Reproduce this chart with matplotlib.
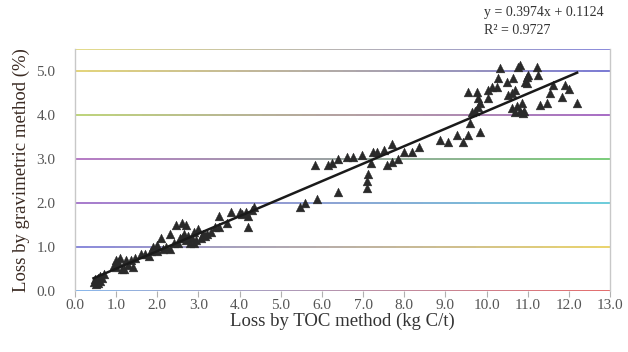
import numpy as np
import matplotlib
matplotlib.use('Agg')
import matplotlib.pyplot as plt
from matplotlib.collections import LineCollection
from matplotlib.colors import to_rgb

# TOC loss (kg C/t) vs gravimetric loss (%)
toc = [0.45, 0.5, 0.5, 0.55, 0.6, 0.55, 0.65, 0.7, 0.48, 0.6,
       0.95, 1.0, 1.05, 1.1, 1.15, 1.2, 1.25, 1.3, 1.4, 1.45, 1.0, 1.35,
       1.6, 1.7, 1.85, 1.9, 2.0, 2.0, 2.1, 2.15, 2.2, 2.3, 2.3, 1.8, 2.4,
       2.45, 2.5, 2.55, 2.6, 2.7, 2.65, 2.75, 2.8, 2.85, 2.9, 2.95, 3.0, 3.05, 3.1,
       2.6, 2.7, 2.9, 3.15,
       3.2, 3.3, 3.4, 3.5, 3.5, 3.7, 3.8, 4.0, 4.05, 4.15, 4.2, 4.2, 4.3, 4.35,
       5.47, 5.6, 5.88, 5.83, 6.15, 6.25, 6.4, 6.6, 6.75, 6.97, 7.25, 7.33, 7.5, 7.7,
       7.2, 7.12, 7.1, 7.1, 6.4, 7.58, 7.7, 7.85, 8.0, 8.2, 8.35,
       8.87, 9.06, 9.28, 9.43, 9.55, 9.84, 9.6, 9.65, 9.72, 9.8, 9.84,
       9.55, 9.77, 9.8, 10.04, 10.04, 10.13, 10.25, 10.28, 10.33, 10.5, 10.52,
       10.62, 10.65, 10.77, 10.69, 10.62, 10.69, 10.81, 10.86, 10.89, 10.98, 10.98,
       10.81, 11.23, 11.25, 11.0, 10.94, 11.62, 11.9, 11.54, 11.83, 11.47, 11.3,
       12.2, 12.0, 10.75, 10.9]
grav = [0.2, 0.25, 0.15, 0.3, 0.35, 0.18, 0.3, 0.38, 0.28, 0.22,
        0.6, 0.7, 0.65, 0.75, 0.5, 0.5, 0.7, 0.6, 0.55, 0.75, 0.55, 0.7,
        0.85, 0.85, 0.9, 1.0, 0.9, 1.05, 1.2, 0.95, 1.0, 1.3, 0.95, 0.8, 1.1,
        1.5, 1.1, 1.2, 1.55, 1.5, 1.3, 1.25, 1.1, 1.2, 1.35, 1.15, 1.4, 1.2, 1.3,
        1.2, 1.15, 1.1, 1.25,
        1.3, 1.35, 1.45, 1.7, 1.45, 1.55, 1.8, 1.8, 1.75, 1.8, 1.45, 1.7, 1.85, 1.9,
        1.9, 2.0, 2.1, 2.86, 2.86, 2.9, 3.0, 3.05, 3.05, 3.1, 3.15, 3.17, 3.2, 3.35,
        2.9, 2.65, 2.5, 2.35, 2.25, 2.86, 2.93, 3.0, 3.15, 3.15, 3.27,
        3.43, 3.39, 3.55, 3.39, 3.55, 3.61, 3.82, 4.07, 4.1, 4.18, 4.27,
        4.52, 4.52, 4.39, 4.39, 4.57, 4.64, 4.64, 4.84, 5.07, 4.75, 4.45,
        4.5, 4.84, 5.09, 4.57, 4.16, 4.07, 4.1, 4.27, 4.05, 4.86, 4.73,
        5.14, 5.09, 4.9, 4.9, 4.75, 4.68, 4.68, 4.5, 4.41, 4.27, 4.23,
        4.27, 4.6, 4.2, 4.1]

slope = 0.3974
intercept = 0.1124
r2 = 0.9727

xticks = np.arange(0, 13.5, 1.0)
yticks = np.arange(0, 5.5, 1.0)

# gridline colours (left end, right end) - scanned rainbow fringes
grid_cols = {0.0: ('#7fb0e8', '#e06060'),
             1.0: ('#8080d8', '#e8d060'),
             2.0: ('#a070c8', '#60c8d8'),
             3.0: ('#b070c0', '#70c870'),
             4.0: ('#b8d070', '#a060c0'),
             5.0: ('#e0d070', '#7070d0'),
             5.5: ('#e0d880', '#8080d8')}

plt.rcParams['font.family'] = ['Liberation Serif', 'DejaVu Serif']

fig = plt.figure(figsize=(6.28, 3.52), dpi=100)
ax = fig.add_axes([0.1194, 0.173, 0.852, 0.688])

# coloured gridlines drawn as gradients across the plot width
for yv, (c0, c1) in grid_cols.items():
    n = 40
    xs = np.linspace(0, 1, n + 1)
    segs = [[(xs[i], yv), (xs[i + 1], yv)] for i in range(n)]
    a = np.array(to_rgb(c0))
    b = np.array(to_rgb(c1))
    cols = [tuple(a + (b - a) * t) for t in np.linspace(0, 1, n)]
    lc = LineCollection(segs, colors=cols, linewidths=1.3,
                        transform=ax.get_yaxis_transform(), zorder=1)
    ax.add_collection(lc)

ax.scatter(toc, grav, marker='^', s=40, color='#2a2a2a', edgecolors='#2a2a2a',
           linewidths=0.3, zorder=3)

xl = np.array([min(toc), max(toc)])
ax.plot(xl, slope * xl + intercept, color='#1a1a1a', lw=1.8, zorder=4)

ax.set_xlim(0, 13)
ax.set_ylim(0, 5.5)
ax.set_xticks(xticks)
ax.set_xticklabels(['%.1f' % v for v in xticks])
ax.set_yticks(yticks)
ax.set_yticklabels(['%.1f' % v for v in yticks])
ax.tick_params(axis='x', direction='out', length=4, color='#b0b0b0',
               labelsize=11, labelcolor='#555555', pad=2)
ax.tick_params(axis='y', length=0, labelsize=11, labelcolor='#555555', pad=14)

ax.spines['top'].set_visible(False)
ax.spines['bottom'].set_visible(False)
for s in ['left', 'right']:
    ax.spines[s].set_color('#c8c8c8')
    ax.spines[s].set_linewidth(1.0)

ax.set_xlabel('Loss by TOC method (kg C/t)', fontsize=13.5, color='#333333', labelpad=0)
ax.set_ylabel('Loss by gravimetric method (%)', fontsize=13.5, color='#3a2a22', labelpad=5)

fig.text(0.771, 0.965, 'y = 0.3974x + 0.1124', fontsize=10, color='#333333', va='center')
fig.text(0.771, 0.912, 'R² = %.4f' % r2, fontsize=10, color='#333333', va='center')

fig.savefig('out.png', dpi=100, facecolor='white')
